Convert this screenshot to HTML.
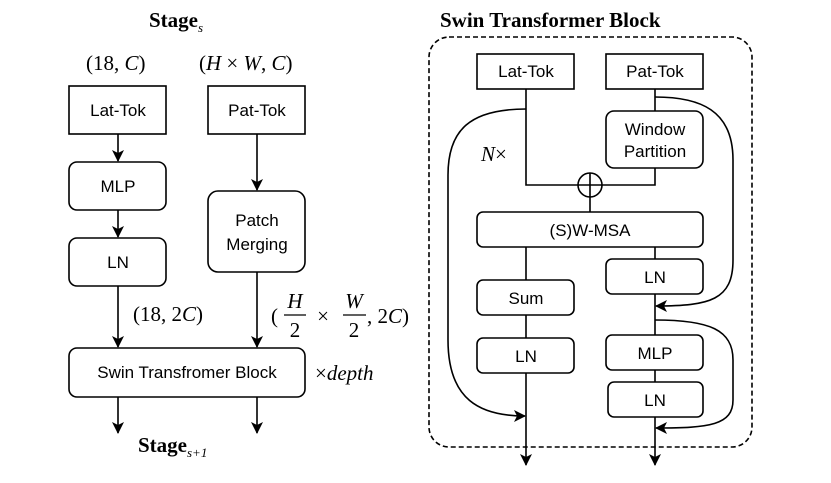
<!DOCTYPE html><html><head><style>body{margin:0;background:#fff}svg{display:block}</style></head><body>
<svg width="831" height="483" viewBox="0 0 831 483" xmlns="http://www.w3.org/2000/svg">
<defs><marker id="a" viewBox="0 0 12 12" refX="11" refY="6" markerWidth="12" markerHeight="12" markerUnits="userSpaceOnUse" orient="auto"><path d="M0,0 L12,6 L0,12 L3,6 z" fill="#000"/></marker></defs>
<g font-family="Liberation Sans, sans-serif" font-size="17" text-anchor="middle" fill="#000">
<g stroke="#000" stroke-width="1.6" fill="none">
<rect x="69" y="86" width="97" height="48"/>
<rect x="69" y="162" width="97" height="48" rx="8"/>
<rect x="69" y="238" width="97" height="48" rx="8"/>
<rect x="208" y="86" width="97" height="48"/>
<rect x="208" y="191" width="97" height="81" rx="10"/>
<rect x="69" y="348" width="236" height="49" rx="8"/>
<path d="M118 134V161" marker-end="url(#a)"/>
<path d="M118 210V237" marker-end="url(#a)"/>
<path d="M118 286V347" marker-end="url(#a)"/>
<path d="M257 134V190" marker-end="url(#a)"/>
<path d="M257 272V347" marker-end="url(#a)"/>
<path d="M118 397V433" marker-end="url(#a)"/>
<path d="M257 397V433" marker-end="url(#a)"/>
<rect x="429" y="37" width="323" height="410" rx="20" stroke-dasharray="5,3"/>
<rect x="477" y="54" width="97" height="35"/>
<rect x="606" y="54" width="97" height="35"/>
<rect x="606" y="111" width="97" height="57" rx="8"/>
<rect x="477" y="212" width="226" height="35" rx="6"/>
<rect x="606" y="259" width="97" height="35" rx="6"/>
<rect x="477" y="280" width="97" height="35" rx="6"/>
<rect x="477" y="338" width="97" height="35" rx="6"/>
<rect x="606" y="335" width="97" height="35" rx="6"/>
<rect x="608" y="382" width="95" height="35" rx="6"/>
<circle cx="590" cy="185" r="12"/>
<path d="M578 185H602M590 173V197"/>
<path d="M526 89V185H578M655 89V111M655 168V185H602M590 197V212M526 247V280M526 315V338M655 247V259M655 294V335M655 370V382"/>
<path d="M526 373V465" marker-end="url(#a)"/>
<path d="M655 417V465" marker-end="url(#a)"/>
<path d="M526 109C470 109 448 130 448 175V340C448 400 480 416 525 416" marker-end="url(#a)"/>
<path d="M655 97C700 97 733 110 733 160V260C733 300 710 306 656 306" marker-end="url(#a)"/>
<path d="M655 320C710 320 733 330 733 360V400C733 425 710 428 656 428" marker-end="url(#a)"/>
</g>
<text x="118" y="116">Lat-Tok</text><text x="118" y="192">MLP</text><text x="118" y="268">LN</text>
<text x="257" y="116">Pat-Tok</text><text x="257" y="226">Patch</text><text x="257" y="250">Merging</text>
<text x="187" y="378">Swin Transfromer Block</text>
<text x="526" y="77">Lat-Tok</text><text x="655" y="77">Pat-Tok</text>
<text x="655" y="135">Window</text><text x="655" y="157">Partition</text>
<text x="590" y="236">(S)W-MSA</text><text x="655" y="283">LN</text><text x="526" y="304">Sum</text>
<text x="526" y="362">LN</text><text x="655" y="359">MLP</text><text x="655" y="406">LN</text>
</g>
<g font-family="Liberation Serif, serif" font-size="21" fill="#000">
<text x="149" y="27" font-weight="bold">Stage<tspan font-size="13" font-style="italic" font-weight="normal" dy="5">s</tspan></text>
<text x="138" y="452" font-weight="bold">Stage<tspan font-size="13" font-style="italic" font-weight="normal" dy="5">s+1</tspan></text>
<text x="440" y="27" font-weight="bold" font-size="21">Swin Transformer Block</text>
<text x="86" y="70">(18, <tspan font-style="italic">C</tspan>)</text>
<text x="199" y="70">(<tspan font-style="italic">H</tspan> × <tspan font-style="italic">W</tspan>, <tspan font-style="italic">C</tspan>)</text>
<text x="133" y="321">(18, 2<tspan font-style="italic">C</tspan>)</text>
<text x="271" y="323">(</text>
<text x="295" y="308" text-anchor="middle" font-style="italic">H</text><text x="295" y="337" text-anchor="middle">2</text>
<text x="323" y="323" text-anchor="middle">×</text>
<text x="354" y="308" text-anchor="middle" font-style="italic">W</text><text x="354" y="337" text-anchor="middle">2</text>
<text x="367" y="323">, 2<tspan font-style="italic">C</tspan>)</text>
<text x="315" y="380">×<tspan font-style="italic">depth</tspan></text>
<text x="481" y="161" font-style="italic">N<tspan font-style="normal">×</tspan></text>
</g>
<path d="M284 315H306M343 315H366" stroke="#000" stroke-width="1.2"/>
</svg></body></html>
